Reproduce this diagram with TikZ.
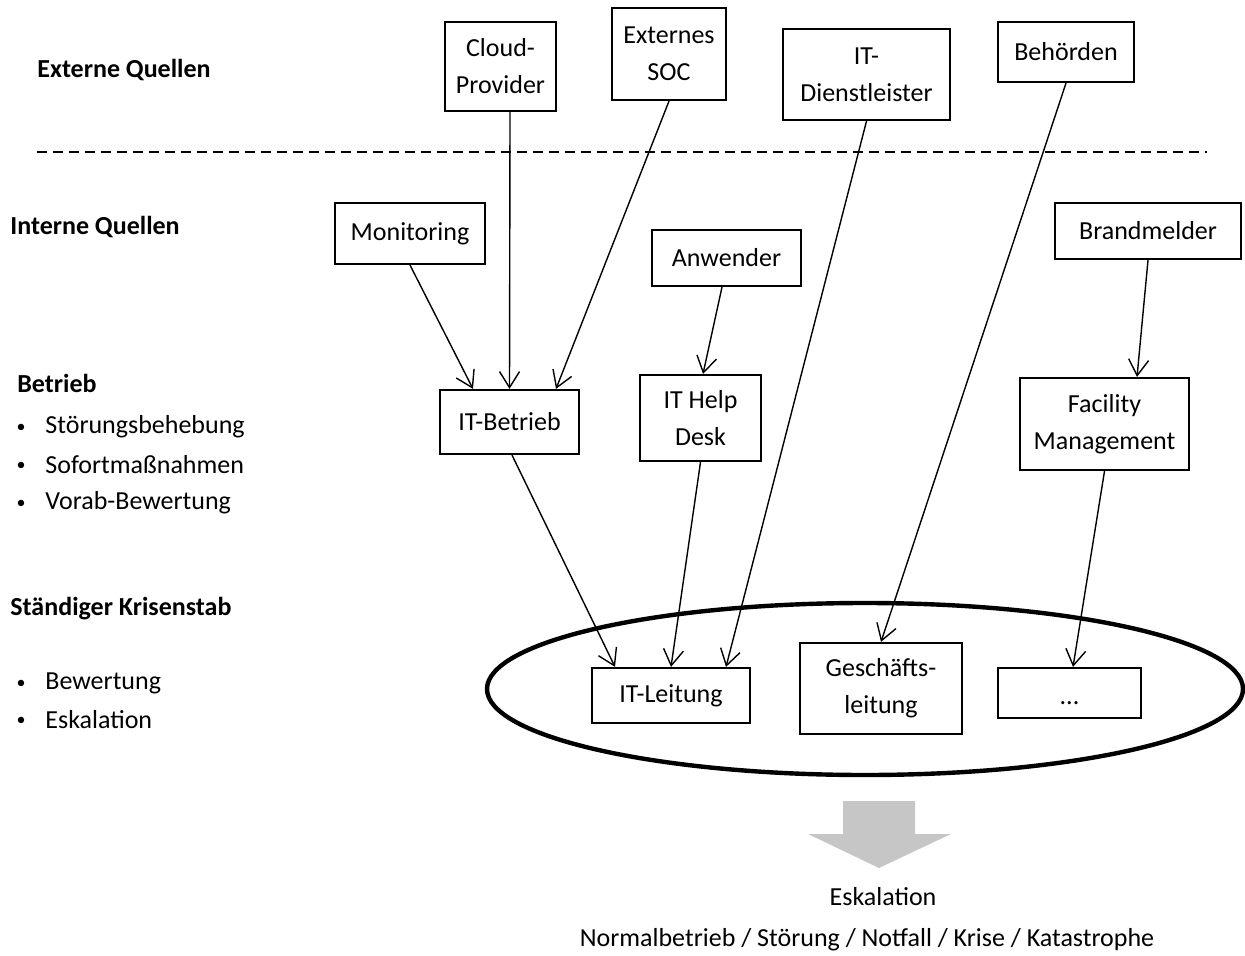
\documentclass[tikz,border=0pt]{standalone}
\usepackage{fontspec}
\setmainfont{Carlito}
\usepackage{tikz}
\usetikzlibrary{calc,arrows.meta}
\tikzset{>={Straight Barb[length=8pt,width=10pt]}}
\tikzset{box/.style={draw,line width=1.1pt,align=center,inner sep=0pt},
         lbl/.style={anchor=west,inner sep=0pt,font=\fontsize{13}{18.5}\selectfont\bfseries},
         itm/.style={anchor=west,inner sep=0pt},
         pkt/.style={inner sep=0pt,font=\fontsize{9}{10}\selectfont},
         pfeil/.style={->,line width=0.7pt}}

\begin{document}
\begin{tikzpicture}[x=0.5pt,y=-0.5pt,font=\fontsize{13}{18.5}\selectfont]
        \useasboundingbox (0,0) rectangle (1245,956);

        % Ebenen links
        \node[lbl] at (37,70)    (extern) {Externe Quellen};
        \node[lbl] at (10,227)   (intern) {Interne Quellen};
        \node[lbl] at (17,383)   (betrieb) {Betrieb};
        \node[pkt] at (21,428)   (b1) {•};
        \node[itm] at (45,427)   (b1t) {Störungsbehebung};
        \node[pkt] at (21,466)   (b2) {•};
        \node[itm] at (45,465)   (b2t) {Sofortmaßnahmen};
        \node[pkt] at (21,504)   (b3) {•};
        \node[itm] at (45,503)   (b3t) {Vorab-Bewertung};
        \node[lbl] at (10,609)   (stab) {Ständiger Krisenstab};
        \node[pkt] at (21,684)   (s1) {•};
        \node[itm] at (45,683)   (s1t) {Bewertung};
        \node[pkt] at (21,721)   (s2) {•};
        \node[itm] at (45,720)   (s2t) {Eskalation};

        \draw[dashed,dash pattern=on 5pt off 3pt,line width=0.65pt] (37,152) -- (1207,152);

        % Krisenstab
        \draw[line width=2.2pt] (865,689) ellipse (378 and 86);

        % Quellen
        \node[box,minimum width=55.5pt,minimum height=44.5pt] at (500.5,66.5) (cloud) {Cloud-\\Provider};
        \node[box,minimum width=57pt,minimum height=46pt]     at (669,54)     (soc) {Externes\\SOC};
        \node[box,minimum width=83.5pt,minimum height=45.5pt] at (866.5,74.5) (itd) {IT-\\Dienstleister};
        \node[box,minimum width=68pt,minimum height=30pt]     at (1066,52)    (beh) {Behörden};
        \node[box,minimum width=75pt,minimum height=30.5pt]   at (410,233.5)  (mon) {Monitoring};
        \node[box,minimum width=74.5pt,minimum height=28pt]   at (726.5,258)  (anw) {Anwender};
        \node[box,minimum width=93pt,minimum height=28pt]     at (1148,231)   (brand) {Brandmelder};

        % Betrieb
        \node[box,minimum width=69.5pt,minimum height=32pt]   at (509.5,422)  (itb) {IT-Betrieb};
        \node[box,minimum width=60.5pt,minimum height=43pt]   at (700.5,418)  (help) {IT Help\\Desk};
        \node[box,minimum width=84.5pt,minimum height=46pt]   at (1104.5,424) (fac) {Facility\\Management};

        % Krisenstab
        \node[box,minimum width=79pt,minimum height=27.5pt]   at (671,695.5)  (itl) {IT-Leitung};
        \node[box,minimum width=81pt,minimum height=45.5pt]   at (881,688.5)  (gl) {Geschäfts-\\leitung};
        \node[box,minimum width=71.5pt,minimum height=25pt,text height=11pt,text depth=0pt]
                at (1069.5,693) (dots) {...};

        \draw[pfeil] (mon.south) -- ($(itb.north)+(-36.5,0)$);
        \draw[pfeil] ($(cloud.south)+(9.5,0)$) -- (itb.north);
        \draw[pfeil] (soc.south) -- ($(itb.north)+(46.5,0)$);
        \draw[pfeil] ($(anw.south)+(-4.5,0)$) -- ($(help.north)+(2.5,0)$);
        \draw[pfeil] (brand.south) -- ($(fac.north)+(32.5,0)$);
        \draw[pfeil] (itd.south) -- ($(itl.north)+(55,0)$);
        \draw[pfeil] (beh.south) -- (gl.north);
        \draw[pfeil] ($(itb.south)+(2.5,0)$) -- ($(itl.north)+(-56,0)$);
        \draw[pfeil] (help.south) -- (itl.north);
        \draw[pfeil] (fac.south) -- ($(dots.north)+(3.5,0)$);

        % Eskalation
        \fill[gray!45] (843,801) -- (915,801) -- (915,834) -- (951,834) -- (879,868)
                -- (808,834) -- (843,834) -- cycle;
        \node[] at (883,897) (esk) {Eskalation};
        \node[] at (867,940) (stufen) {Normalbetrieb / Störung / Notfall / Krise / Katastrophe};

\end{tikzpicture}
\end{document}
